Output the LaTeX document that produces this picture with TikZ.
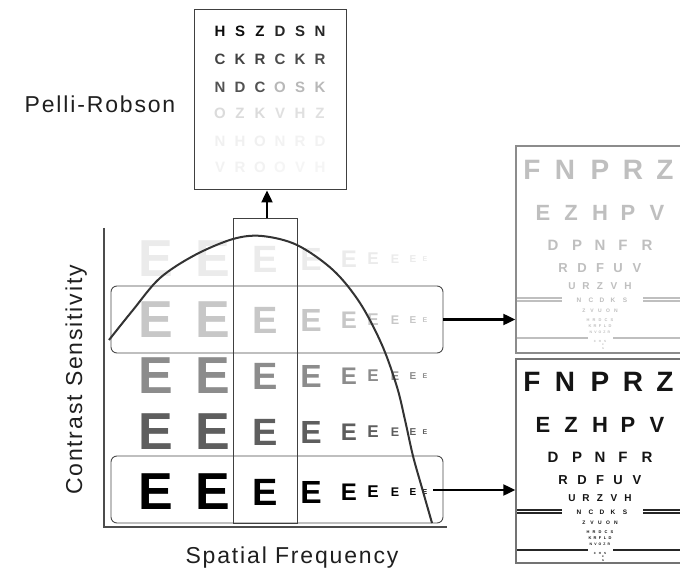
\documentclass[tikz,border=0pt]{standalone}
\usepackage{fontspec}
\setmainfont{Liberation Sans}
\newfontfamily\labelfont[LetterSpace=8]{Liberation Sans}
\usetikzlibrary{arrows.meta}

% one row of an acuity chart: name prefix, y, font size, list of x/letter
\newcommand\chartrow[4]{%
  \foreach \xx/\ll [count=\n] in {#4}
    \node[chartletter, font=\bfseries\fontsize{#3}{#3}\selectfont] (#1-\n) at (\xx,#2) {\ll};}

% the letters and rules of a logMAR acuity chart
\newcommand\acuitychart[1]{%
  \chartrow{#1-a}{382}{28}{532/F,565/N,600/P,633/R,665/Z}
  \chartrow{#1-b}{425}{22}{543/E,571/Z,600/H,628/P,657/V}
  \chartrow{#1-c}{457}{15}{553/D,577/P,600/N,623/F,647/R}
  \chartrow{#1-d}{480}{13}{563/R,582/D,600/F,618/U,637/V}
  \chartrow{#1-e}{498}{10}{572/U,586/R,600/Z,614/V,628/H}
  \chartrow{#1-f}{512}{6.5}{579/N,591/C,602/D,613/K,625/S}
  \chartrow{#1-g}{523}{5}{584/Z,592/V,600/U,608/O,616/N}
  \chartrow{#1-h}{532}{4}{588/H,594/R,600/D,606/C,612/S}
  \chartrow{#1-i}{538}{4}{590/K,595/R,600/F,605/L,610/D}
  \chartrow{#1-j}{544}{3.5}{591/N,595.5/V,600/O,604.5/Z,609/R}
  \chartrow{#1-k}{553}{3}{595/C,600/H,605/S}
  \chartrow{#1-l}{557}{2.5}{603/K}
  \chartrow{#1-m}{561}{2.5}{603/N}
  \draw[chartrule] (517,510) -- (562,510) (517,513) -- (562,513)
                   (643,510) -- (700,510) (643,513) -- (700,513)
                   (517,550) -- (588,550) (613,550) -- (700,550);
}

\begin{document}
\begin{tikzpicture}[x=1pt,y=-1pt,
  label/.style={inner sep=0pt, font=\labelfont\fontsize{23}{23}\selectfont, text=black!88},
  eletter/.style={inner sep=0pt},
  prletter/.style={inner sep=0pt, font=\bfseries\fontsize{15}{15}\selectfont},
  rowbox/.style={draw=black!70, line width=0.9pt, rounded corners=6pt,
                 minimum width=332pt, minimum height=67pt, inner sep=0pt},
  colbox/.style={draw=black!75, line width=0.9pt, minimum width=64pt,
                 minimum height=305pt, inner sep=0pt},
  chartframe/.style={line width=1.5pt, minimum width=184pt, inner sep=0pt},
  axis/.style={draw=black!70, line width=1.4pt},
  csf/.style={draw=black!80, line width=2pt, line join=round},
  bigarrow/.style={draw=black, line width=2.4pt, -{Triangle[length=12pt,width=11pt]}}]
\useasboundingbox (0,0) rectangle (680,569);
\fill[white] (0,0) rectangle (680,569);
\clip (0,0) rectangle (680,569);

% letter E grid: contrast falls upward, size falls to the right
\foreach \yy/\col [count=\r] in {259/black!8, 320/black!22, 376/black!45, 432/black!63, 492/black}
  \foreach \xx/\s [count=\k] in {156/52, 213/52, 265/38, 311/32, 349/24, 373/17, 395/12.5, 413/10, 425/7}
    \node[eletter, text=\col, font=\bfseries\fontsize{\s}{\s}\selectfont] (e\r-\k) at (\xx,\yy) {E};

% axes
\draw[axis] (104,228) -- (104,527) -- (447,527);

% highlighted row and column
\node[rowbox] (rowA) at (277,319.5) {};
\node[rowbox] (rowB) at (277,489.5) {};
\node[colbox] (colbox) at (265,370.5) {};

% contrast sensitivity function
\draw[csf] plot[smooth, tension=0.55] coordinates {
  (109,340) (133,310) (160,278) (195,255) (233,239) (262,236) (297,245)
  (333,270) (360,303) (382,345) (397,387) (405,420) (413,456) (422,488) (432,523)};

% axis labels
\node[label, anchor=base] (sf) at (292,563) {Spatial Frequency};
\node[label, anchor=base, rotate=90] (cs) at (82,380) {Contrast Sensitivity};
\node[label] (prl) at (100,104.5) {Pelli-Robson};

% Pelli-Robson chart: triplets of fading contrast
\node[draw=black!75, line width=1pt, minimum width=152pt, minimum height=180pt, inner sep=0pt] (pelli) at (270,100) {};
\foreach \yy/\xo/\la/\lb/\lc/\col [count=\t] in {
    31.5/220/H/S/Z/black!95, 31.5/280/D/S/N/black!85,
    59/220/C/K/R/black!74,   59/280/C/K/R/black!70,
    87/220/N/D/C/black!68,   87/280/O/S/K/black!28,
    113/220/O/Z/K/black!14,  113/280/V/H/Z/black!12,
    141/220/N/H/O/black!6,   141/280/N/R/D/black!5,
    167/220/V/R/O/black!5,   167/280/O/V/H/black!4} {
  \node[prletter, text=\col] (pr\t-1) at (\xo,\yy) {\la};
  \node[prletter, text=\col] (pr\t-2) at ({\xo+20},\yy) {\lb};
  \node[prletter, text=\col] (pr\t-3) at ({\xo+40},\yy) {\lc};
}

% acuity charts at low and high contrast
\node[chartframe, draw=black!45, minimum height=207pt] (chartT) at (608,249.5) {};
\node[chartframe, draw=black!55, minimum height=204pt] (chartB) at (608,461) {};
\begin{scope}[yshift=212pt,
    chartletter/.style={inner sep=0pt, text=black!25},
    chartrule/.style={draw=black!25, line width=1.2pt}]
  \acuitychart{lo}
\end{scope}
\begin{scope}[chartletter/.style={inner sep=0pt, text=black!92},
    chartrule/.style={draw=black!85, line width=1.2pt}]
  \acuitychart{hi}
\end{scope}

% arrows
\coordinate (colTop) at ([xshift=2pt]colbox.north);
\draw[bigarrow] (colTop) -- (colTop |- pelli.south);
\draw[bigarrow] (rowA.east) -- (rowA.east -| chartT.west);
\coordinate (fade) at (433,490);
\draw[bigarrow] (fade) -- (fade -| chartB.west);
\end{tikzpicture}
\end{document}
